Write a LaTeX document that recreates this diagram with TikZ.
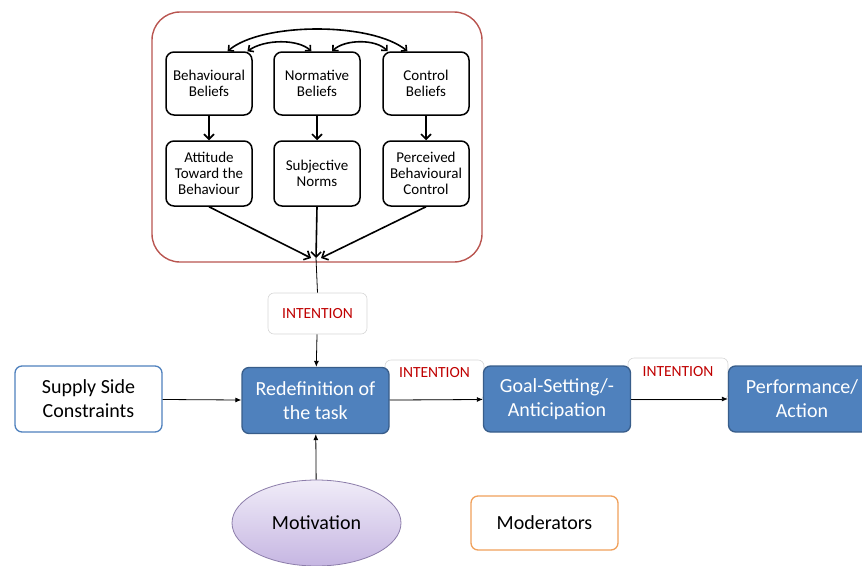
\documentclass[tikz,border=0pt]{standalone}
\usepackage{fontspec}
\setmainfont{Carlito}
\usepackage{tikz}
\usetikzlibrary{shapes.geometric,arrows.meta}
\definecolor{taskblue}{RGB}{79,129,189}
\definecolor{taskedge}{RGB}{56,93,138}
\definecolor{tpbred}{RGB}{185,85,80}
\definecolor{intred}{RGB}{192,0,0}
\definecolor{intgray}{RGB}{215,215,215}
\definecolor{motedge}{RGB}{140,125,170}
\definecolor{motlight}{RGB}{240,236,248}
\definecolor{motdark}{RGB}{198,182,226}
\definecolor{modorange}{RGB}{240,160,90}

\begin{document}
\begin{tikzpicture}[x=1pt,y=-1pt,
    belief/.style={draw,rounded corners=8pt,line width=1.5pt,minimum width=86pt,minimum height=63pt,align=center,font=\fontsize{15}{16}\selectfont},
    stage/.style={draw=taskedge,fill=taskblue,rounded corners=7pt,line width=1.3pt,minimum width=147pt,minimum height=66pt,align=center,text=white,font=\fontsize{20}{24}\selectfont},
    intbox/.style={draw=intgray,fill=white,rounded corners=6pt,line width=0.6pt,minimum width=99pt,minimum height=41pt,text=intred,font=\fontsize{15.5}{17}\selectfont},
    bigtext/.style={font=\fontsize{20}{24}\selectfont,align=center},
    thick arrow/.style={line width=1.6pt,-{Straight Barb[length=5pt,width=10pt]}},
    both arrow/.style={line width=1.6pt,{Straight Barb[length=4pt,width=8pt]}-{Straight Barb[length=4pt,width=8pt]}},
    thin arrow/.style={line width=0.8pt,-{Latex[length=6pt,width=5pt]}}]
        \useasboundingbox (0,0) rectangle (862,565);
        % theory of planned behaviour
        \draw[tpbred,line width=1.4pt,rounded corners=28pt] (152,12) rectangle (482,262);
        \node[belief] (bb) at (209,83.5) {Behavioural\\Beliefs}; %1
        \node[belief] (nb) at (317,83.5) {Normative\\Beliefs}; %2
        \node[belief] (cb) at (426,83.5) {Control\\Beliefs}; %3
        \node[belief,minimum height=65pt] (att) at (209,173.5) {Attitude\\Toward the\\Behaviour}; %4
        \node[belief,minimum height=65pt] (sn) at (317,173.5) {Subjective\\Norms}; %5
        \node[belief,minimum height=65pt] (pbc) at (426,173.5) {Perceived\\Behavioural\\Control}; %6
        \coordinate (cv) at (316,258);
        \draw[both arrow] (bb.60) .. controls (262,22) and (372,22) .. (cb.120);
        \draw[both arrow] (bb.40) .. controls (265,39) and (298,39) .. (nb.100);
        \draw[both arrow] (nb.65) .. controls (345,39) and (376,39) .. (cb.140);
        \draw[thick arrow] (bb) -- (att);
        \draw[thick arrow] (nb) -- (sn);
        \draw[thick arrow] (cb) -- (pbc);
        \draw[thick arrow] (att.south) -- ([xshift=-5pt]cv);
        \draw[thick arrow] (sn.south) -- (cv);
        \draw[thick arrow] (pbc.south) -- ([xshift=5pt]cv);
        % task process
        \node[intbox] (int1) at (317.5,313.5) {INTENTION};
        \node[intbox,minimum height=40pt,text depth=16pt] (int2) at (434.5,380) {INTENTION};
        \node[intbox,minimum width=100pt,minimum height=42pt,text depth=16pt] (int3) at (678,379) {INTENTION};
        \node[stage] (task) at (315.5,400.5) {Redefinition of\\the task};
        \node[stage,draw=taskblue,fill=white,text=black] (supply) at (88.5,399) {Supply Side\\Constraints};
        \node[stage] (goal) at (557,399) {Goal-Setting/-\\Anticipation};
        \node[stage] (perf) at (802,399) {Performance/\\Action};
        \node[ellipse,draw=motedge,line width=0.8pt,top color=motlight,bottom color=motdark,minimum width=169pt,minimum height=86pt,bigtext] (mot) at (316.5,523) {Motivation};
        \node[draw=modorange,line width=1.3pt,rounded corners=7pt,minimum width=147pt,minimum height=54pt,bigtext] (mod) at (544.5,523) {Moderators};
        \draw[line width=0.8pt] (cv) -- (int1.north);
        \draw[thin arrow] (int1) -- (task);
        \draw[thin arrow] (supply) -- (task);
        \draw[thin arrow] (task) -- (goal);
        \draw[thin arrow] (goal) -- (perf);
        \draw[thin arrow] (mot) -- (task);
\end{tikzpicture}
\end{document}
